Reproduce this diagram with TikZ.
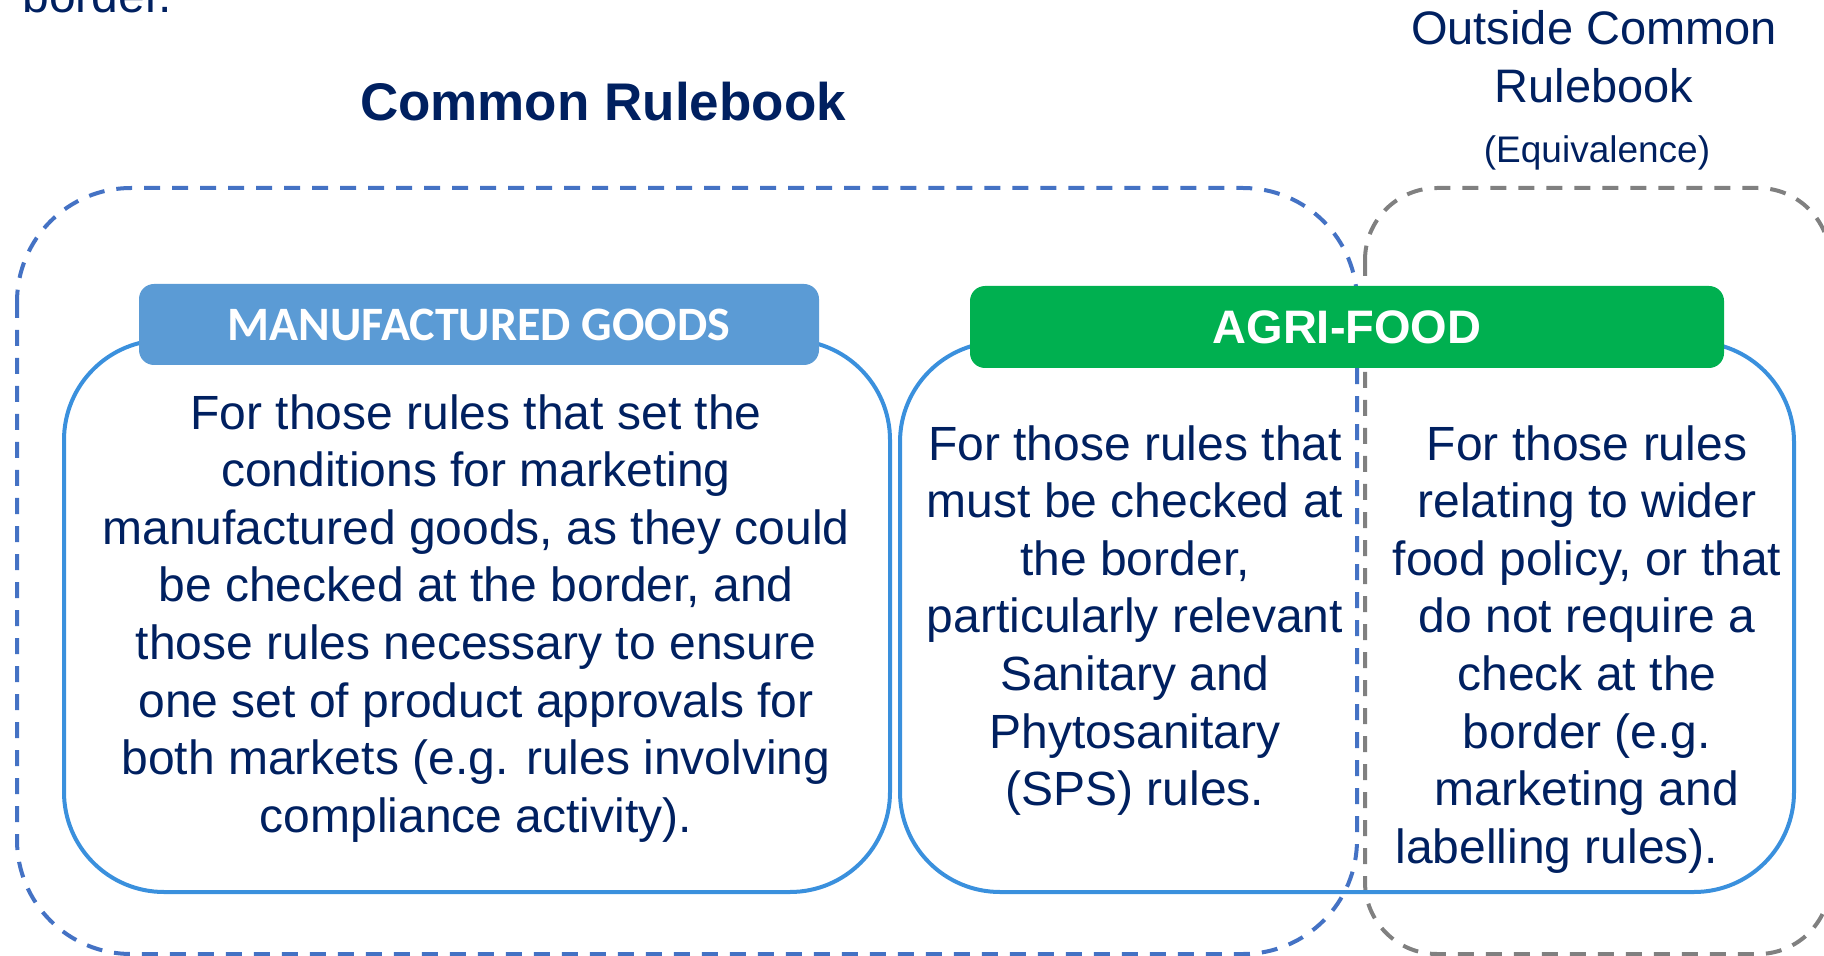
\documentclass[tikz,border=0pt]{standalone}
\usepackage{fontspec}
\setmainfont{Liberation Sans}
\newfontfamily\carlito{Carlito}

\definecolor{navy}{RGB}{0,32,96}
\definecolor{dashblue}{RGB}{68,114,196}
\definecolor{dashgray}{RGB}{128,128,128}
\definecolor{panelblue}{RGB}{58,144,221}
\definecolor{headblue}{RGB}{91,155,213}
\definecolor{agrigreen}{RGB}{0,176,80}

\begin{document}
\begin{tikzpicture}[x=0.5pt,y=-0.5pt,
  outline/.style={line width=2pt,dash pattern=on 8pt off 6pt},
  panel/.style={draw=panelblue,line width=2pt,rounded corners=50pt},
  header/.style={rounded corners=7.5pt,text=white,inner sep=0pt},
  bodytext/.style={text=navy,font=\fontsize{24}{28.8}\selectfont,align=center,inner sep=0pt,anchor=north}]
  \useasboundingbox (0,0) rectangle (1824,956);

  \draw[outline,draw=dashgray,rounded corners=36pt] (1365,188) rectangle (1830,954);
  \draw[outline,draw=dashblue,rounded corners=57pt] (17,188) rectangle (1357,954);

  \draw[panel] (64,340) rectangle (890,892);
  \draw[panel] (900,342) rectangle (1794,892);

  \node[header,fill=headblue,minimum width=340pt,minimum height=40.5pt,font=\carlito\bfseries\fontsize{24}{28}\selectfont] (mfghead) at (479,324.5) {MANUFACTURED GOODS};
  \node[header,fill=agrigreen,minimum width=377pt,minimum height=41pt,font=\bfseries\fontsize{23.5}{28}\selectfont] (agrihead) at (1347,327) {AGRI-FOOD};

  \node[bodytext] (mfgtext) at (476,394) {For those rules that set the\\conditions for marketing\\manufactured goods, as they could\\be checked at the border, and\\those rules necessary to ensure\\one set of product approvals for\\both markets (e.g. rules involving\\compliance activity).};
  \node[bodytext] (agrileft) at (1135,425) {For those rules that\\must be checked at\\the border,\\particularly relevant\\Sanitary and\\Phytosanitary\\(SPS) rules.};
  \node[bodytext] (agriright) at (1587,425) {For those rules\\relating to wider\\food policy, or that\\do not require a\\check at the\\border (e.g.\\marketing and\\labelling rules).\hspace*{30pt}};

  \node[text=navy,anchor=base,inner sep=0pt,font=\bfseries\fontsize{26.5}{32}\selectfont] (common) at (603,121) {Common Rulebook};
  \node[text=navy,anchor=north,align=center,inner sep=0pt,font=\fontsize{23.5}{29}\selectfont] (outside) at (1594,10) {Outside Common\\Rulebook};
  \node[text=navy,anchor=base,inner sep=0pt,font=\fontsize{18.5}{22}\selectfont] (equiv) at (1597,163) {(Equivalence)};
  \node[text=navy,anchor=base west,inner sep=0pt,font=\fontsize{24}{28.8}\selectfont] (border) at (22,13) {border.};
\end{tikzpicture}
\end{document}
